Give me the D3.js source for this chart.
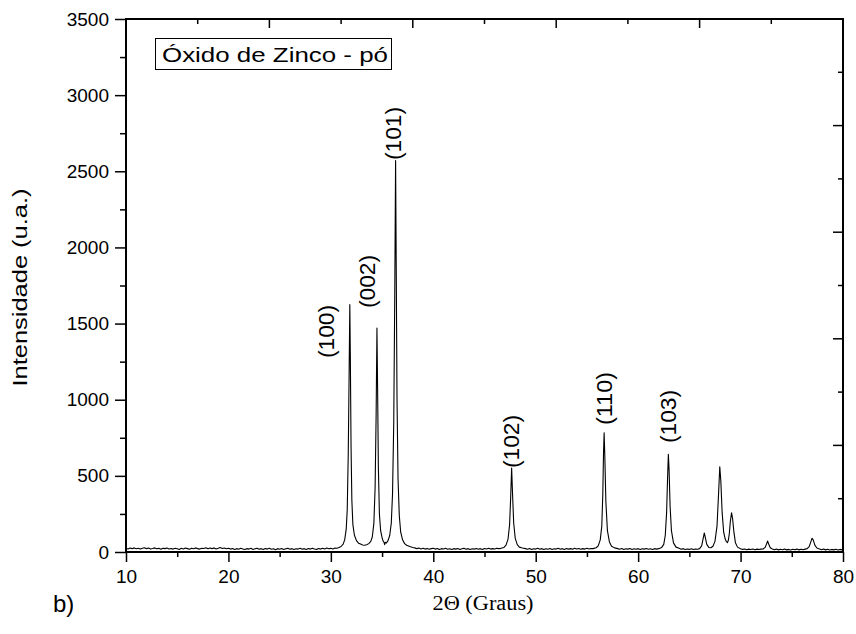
<!DOCTYPE html>
<html>
<head>
<meta charset="utf-8">
<script src="https://cdn.jsdelivr.net/npm/d3@7"></script>
<style>
  body { margin: 0; background: #fff; }
  svg text { font-family: "Liberation Sans", Arial, sans-serif; fill: #000; }
</style>
</head>
<body>
<div id="chart"></div>
<script>
// XRD scan of ZnO powder: [2theta, intensity]
const scan = [
  [10.0,24],[10.2,20],[10.4,26],[10.6,22],[10.8,27],[11.0,21],[11.2,25],[11.4,19],[11.6,24],[11.8,28],
  [12.0,22],[12.2,26],[12.4,20],[12.6,23],[12.8,27],[13.0,21],[13.2,24],[13.4,18],[13.6,25],[13.8,22],
  [14.0,26],[14.2,20],[14.4,23],[14.6,19],[14.8,25],[15.0,21],[15.2,17],[15.4,24],[15.6,20],[15.8,26],
  [16.0,22],[16.2,18],[16.4,25],[16.6,21],[16.8,27],[17.0,22],[17.2,19],[17.4,25],[17.6,23],[17.8,28],
  [18.0,21],[18.2,26],[18.4,22],[18.6,27],[18.8,20],[19.0,24],[19.2,29],[19.4,23],[19.6,26],[19.8,21],
  [20.0,25],[20.2,19],[20.4,23],[20.6,17],[20.8,22],[21.0,18],[21.2,24],[21.4,20],[21.6,16],[21.8,22],
  [22.0,19],[22.2,24],[22.4,17],[22.6,21],[22.8,25],[23.0,18],[23.2,22],[23.4,16],[23.6,23],[23.8,19],
  [24.0,24],[24.2,18],[24.4,21],[24.6,15],[24.8,22],[25.0,18],[25.2,23],[25.4,17],[25.6,21],[25.8,24],
  [26.0,18],[26.2,22],[26.4,16],[26.6,21],[26.8,19],[27.0,24],[27.2,18],[27.4,22],[27.6,17],[27.8,23],
  [28.0,19],[28.2,25],[28.4,20],[28.6,17],[28.8,23],[29.0,19],[29.2,24],[29.4,20],[29.6,26],[29.8,21],
  [30.0,24],[30.2,20],[30.4,26],[30.6,25],[30.8,30],[31.0,36],[31.2,52],[31.35,80],[31.5,150],[31.6,280],
  [31.7,650],[31.78,1150],[31.85,1625],[31.9,1300],[31.97,700],[32.05,340],[32.15,180],[32.3,110],[32.5,75],[32.7,58],
  [32.9,52],[33.1,46],[33.3,44],[33.5,48],[33.7,55],[33.9,70],[34.05,100],[34.2,190],[34.32,420],[34.42,900],
  [34.5,1470],[34.56,1100],[34.64,550],[34.74,250],[34.86,140],[35.0,95],[35.1,72],[35.2,62],[35.25,48],[35.3,64],
  [35.4,58],[35.5,66],[35.6,78],[35.75,110],[35.9,190],[36.02,380],[36.14,850],[36.24,1700],[36.32,2570],[36.38,1900],
  [36.46,1000],[36.56,480],[36.68,240],[36.82,130],[37.0,80],[37.2,55],[37.4,44],[37.7,36],[38.0,30],[38.2,27],
  [38.4,22],[38.6,26],[38.8,20],[39.0,24],[39.2,19],[39.4,23],[39.6,18],[39.8,22],[40.0,25],[40.2,19],
  [40.4,23],[40.6,17],[40.8,22],[41.0,20],[41.2,24],[41.4,18],[41.6,21],[41.8,16],[42.0,22],[42.2,19],
  [42.4,23],[42.6,17],[42.8,21],[43.0,24],[43.2,18],[43.4,22],[43.6,16],[43.8,21],[44.0,19],[44.2,23],
  [44.4,18],[44.6,22],[44.8,17],[45.0,23],[45.2,20],[45.4,24],[45.6,19],[45.8,22],[46.0,20],[46.2,25],
  [46.4,22],[46.6,24],[46.9,30],[47.1,45],[47.3,85],[47.45,180],[47.55,350],[47.65,552],[47.75,360],[47.85,190],
  [48.0,90],[48.2,48],[48.4,32],[48.7,26],[49.0,22],[49.2,18],[49.4,23],[49.6,17],[49.8,21],[50.0,19],
  [50.2,24],[50.4,18],[50.6,22],[50.8,16],[51.0,21],[51.2,18],[51.4,23],[51.6,17],[51.8,21],[52.0,19],
  [52.2,24],[52.4,18],[52.6,22],[52.8,17],[53.0,23],[53.2,19],[53.4,22],[53.6,18],[53.8,24],[54.0,20],
  [54.2,23],[54.4,18],[54.6,22],[54.8,19],[55.0,24],[55.2,20],[55.4,23],[55.6,22],[55.9,28],[56.1,40],
  [56.3,80],[56.45,170],[56.55,380],[56.62,650],[56.68,783],[56.75,620],[56.85,330],[57.0,140],[57.2,65],[57.4,38],
  [57.7,27],[58.0,22],[58.2,18],[58.4,23],[58.6,17],[58.8,21],[59.0,19],[59.2,23],[59.4,17],[59.6,21],
  [59.8,18],[60.0,22],[60.2,16],[60.4,21],[60.6,19],[60.8,23],[61.0,18],[61.2,21],[61.4,17],[61.6,22],
  [61.8,19],[62.0,22],[62.3,30],[62.5,50],[62.65,110],[62.78,260],[62.88,500],[62.95,641],[63.02,540],[63.12,300],
  [63.25,140],[63.45,60],[63.7,32],[64.0,24],[64.2,18],[64.4,22],[64.6,16],[64.8,20],[65.0,17],[65.2,21],
  [65.4,16],[65.6,20],[65.8,18],[66.0,22],[66.2,40],[66.35,90],[66.46,125],[66.56,95],[66.7,50],[66.9,30],
  [67.1,28],[67.3,38],[67.5,70],[67.7,170],[67.85,380],[67.97,560],[68.07,470],[68.2,260],[68.35,130],[68.5,85],
  [68.62,68],[68.72,62],[68.8,75],[68.9,120],[69.0,200],[69.12,258],[69.22,220],[69.35,130],[69.5,60],[69.7,32],
  [70.0,22],[70.2,17],[70.4,20],[70.6,15],[70.8,19],[71.0,16],[71.2,20],[71.4,15],[71.6,19],[71.8,16],
  [72.0,19],[72.2,20],[72.4,30],[72.55,55],[72.64,72],[72.74,52],[72.9,28],[73.1,20],[73.3,15],[73.5,19],
  [73.7,14],[73.9,18],[74.1,15],[74.3,19],[74.5,14],[74.7,17],[74.9,13],[75.1,18],[75.3,15],[75.5,19],
  [75.7,14],[75.9,18],[76.1,15],[76.3,19],[76.5,22],[76.7,35],[76.85,65],[76.98,90],[77.1,78],[77.25,45],
  [77.45,26],[77.7,20],[77.9,15],[78.1,19],[78.3,14],[78.5,18],[78.7,13],[78.9,17],[79.1,14],[79.3,18],
  [79.5,13],[79.7,17],[79.9,14],[80.0,16]
];

// Miller index labels: center 2theta and intensity where the (rotated) text starts
const peakLabels = ['(100)', '(002)', '(101)', '(102)', '(110)', '(103)'];
const labelTheta = [29.62, 33.53, 36.07, 47.59, 56.67, 63.01];
const labelIntensity = [1274, 1602, 2574, 552, 834, 716];

const xTicks = [10, 20, 30, 40, 50, 60, 70, 80];
const yTicks = [0, 500, 1000, 1500, 2000, 2500, 3000, 3500];
const legendText = 'Óxido de Zinco - pó';

const width = 856, height = 634;
const margin = {top: 19, right: 13, bottom: 82, left: 126};

const svg = d3.select('#chart')
              .append('svg')
              .attr('width', width)
              .attr('height', height);

const x = d3.scaleLinear()
            .domain([10, 80])
            .range([margin.left, width - margin.right]);

const y = d3.scaleLinear()
            .domain([0, 3500])
            .range([height - margin.bottom, margin.top]);

const x0 = x.range()[0], x1 = x.range()[1];
const y0 = y.range()[0], y1 = y.range()[1];

// Bottom axis: major + minor ticks pointing out
const minorX = d3.range(15, 80, 10);
svg.append('g')
  .attr('transform', `translate(0,${y0})`)
  .call(d3.axisBottom(x).tickValues(minorX).tickSize(5).tickFormat(''))
  .call(g => g.select('.domain').remove());

svg.append('g')
  .attr('class', 'xaxis')
  .attr('transform', `translate(0,${y0})`)
  .call(d3.axisBottom(x).tickValues(xTicks).tickSize(10).tickPadding(8).tickFormat(d3.format('d')))
  .call(g => g.select('.domain').remove())
  .call(g => g.selectAll('text').attr('font-size', 19));

// Left axis
const minorY = d3.range(250, 3500, 500);
svg.append('g')
  .attr('transform', `translate(${x0},0)`)
  .call(d3.axisLeft(y).tickValues(minorY).tickSize(6).tickFormat(''))
  .call(g => g.select('.domain').remove());

svg.append('g')
  .attr('class', 'yaxis')
  .attr('transform', `translate(${x0},0)`)
  .call(d3.axisLeft(y).tickValues(yTicks).tickSize(11).tickPadding(6).tickFormat(d3.format('d')))
  .call(g => g.select('.domain').remove())
  .call(g => g.selectAll('text').attr('font-size', 19));

svg.selectAll('.tick line').attr('stroke', '#000').attr('stroke-width', 1.5);

// Top and right axes carry their own 10-division ticks, pointing in
const topScale = d3.scaleLinear().domain([0, 10]).range([x0, x1]);
const rightScale = d3.scaleLinear().domain([0, 10]).range([y0, y1]);
const div = d3.range(1, 10);

svg.append('g')
  .selectAll('line')
  .data(div)
  .join('line')
  .attr('x1', d => topScale(d))
  .attr('x2', d => topScale(d))
  .attr('y1', y1)
  .attr('y2', d => y1 + (d % 2 === 0 ? 9 : 5))
  .attr('stroke', '#000')
  .attr('stroke-width', 1.5);

svg.append('g')
  .selectAll('line')
  .data(div)
  .join('line')
  .attr('y1', d => rightScale(d))
  .attr('y2', d => rightScale(d))
  .attr('x1', x1)
  .attr('x2', d => x1 - (d % 2 === 0 ? 10 : 5))
  .attr('stroke', '#000')
  .attr('stroke-width', 1.5);

// Frame
svg.append('rect')
  .attr('x', x0)
  .attr('y', y1)
  .attr('width', x1 - x0)
  .attr('height', y0 - y1)
  .attr('fill', 'none')
  .attr('stroke', '#000')
  .attr('stroke-width', 2);

// Diffraction pattern
const line = d3.line()
               .x(d => x(d[0]))
               .y(d => y(d[1]));

svg.append('path')
  .datum(scan)
  .attr('fill', 'none')
  .attr('stroke', '#000')
  .attr('stroke-width', 1.1)
  .attr('stroke-linejoin', 'round')
  .attr('d', line);

// Peak labels, rotated
svg.append('g')
  .selectAll('text')
  .data(peakLabels)
  .join('text')
  .attr('transform', (d, i) => `translate(${x(labelTheta[i])},${y(labelIntensity[i])}) rotate(-90)`)
  .attr('dominant-baseline', 'central')
  .attr('font-size', 22)
  .attr('textLength', 53)
  .attr('lengthAdjust', 'spacingAndGlyphs')
  .text(d => d);

// Legend box
svg.append('rect')
  .attr('x', 155.5)
  .attr('y', 38.5)
  .attr('width', 236)
  .attr('height', 31)
  .attr('fill', '#fff')
  .attr('stroke', '#000')
  .attr('stroke-width', 1);

svg.append('text')
  .attr('x', 162)
  .attr('y', 62)
  .attr('font-size', 20)
  .attr('textLength', 226)
  .attr('lengthAdjust', 'spacingAndGlyphs')
  .text(legendText);

// Axis titles
svg.append('text')
  .attr('transform', `translate(19,${(y0 + y1) / 2 + 2}) rotate(-90)`)
  .attr('text-anchor', 'middle')
  .attr('dominant-baseline', 'central')
  .attr('font-size', 21)
  .attr('textLength', 198)
  .attr('lengthAdjust', 'spacingAndGlyphs')
  .text('Intensidade (u.a.)');

svg.append('text')
  .attr('x', 483)
  .attr('y', 610)
  .attr('text-anchor', 'middle')
  .style('font-family', '"Liberation Serif", "Times New Roman", serif')
  .attr('font-size', 20)
  .attr('textLength', 101)
  .attr('lengthAdjust', 'spacingAndGlyphs')
  .text('2Θ (Graus)');

svg.append('text')
  .attr('x', 53)
  .attr('y', 612)
  .attr('font-size', 24)
  .text('b)');
</script>
</body>
</html>
